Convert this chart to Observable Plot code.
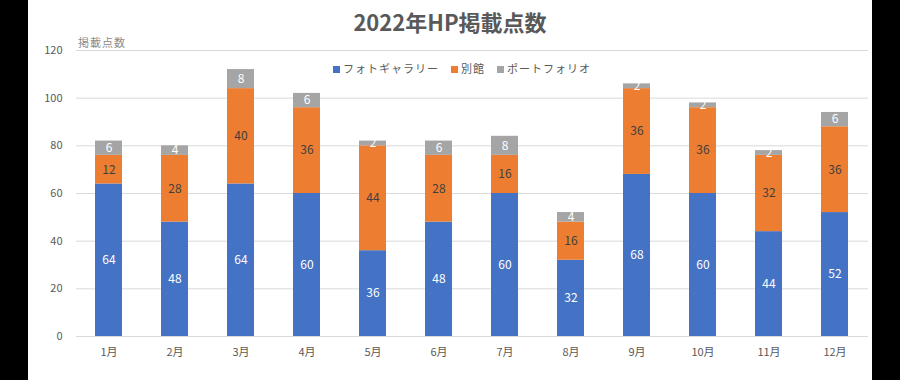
<!DOCTYPE html>
<html><head><meta charset="utf-8">
<script src="https://cdn.jsdelivr.net/npm/d3@7"></script>
<script src="https://cdn.jsdelivr.net/npm/@observablehq/plot@0.6"></script>
<style>
body{margin:0;background:#000;width:900px;height:380px;overflow:hidden;font-family:"Noto Sans CJK JP","Noto Sans",sans-serif;}
#wrap{position:absolute;left:28px;top:0;width:844px;height:380px;background:#fff;}
#title{position:absolute;left:0;width:844px;top:5px;text-align:center;font-size:22px;font-weight:bold;color:#595959;}
#ylab{position:absolute;left:50px;top:34px;font-size:11px;color:#8c8c8c;letter-spacing:1px;}
#legend{position:absolute;left:0;width:844px;top:60px;text-align:center;font-size:11px;color:#595959;padding-left:24px;box-sizing:border-box;}
#legend span{margin:0 6px;letter-spacing:1px;}
#legend i{display:inline-block;width:7px;height:7px;margin-right:3px;vertical-align:0px;}
#chart{position:absolute;left:0;top:0;}
</style></head>
<body>
<div id="wrap">
<div id="chart"></div>
<div id="title">2022年HP掲載点数</div>
<div id="ylab">掲載点数</div>
<div id="legend"></div>
</div>
<script>
const months = ["1月","2月","3月","4月","5月","6月","7月","8月","9月","10月","11月","12月"];
const seriesNames = ["フォトギャラリー","別館","ポートフォリオ"];
const seriesColors = ["#4472C4","#ED7D31","#A5A5A5"];
const photo = [64,48,64,60,36,48,60,32,68,60,44,52];
const annex = [12,28,40,36,44,28,16,16,36,36,32,36];
const portfolio = [6,4,8,6,2,6,8,4,2,2,2,6];
const yTicks = [0,20,40,60,80,100,120];

const seriesValues = [photo, annex, portfolio];
const data = [];
seriesNames.forEach((s, i) => months.forEach((m, j) => data.push({month: m, series: s, value: seriesValues[i][j]})));

const font = "'Noto Sans CJK JP','Noto Sans',sans-serif";
const chart = Plot.plot({
  width: 844, height: 380,
  marginTop: 50, marginBottom: 44, marginLeft: 48, marginRight: 4,
  style: {fontFamily: font, fontSize: "11px", color: "#595959", background: "transparent"},
  x: {domain: months, paddingInner: 0.59, paddingOuter: 0.295, label: null, tickSize: 0, tickPadding: 12},
  y: {domain: [0, 120], ticks: yTicks, label: null, tickSize: 0, tickPadding: 14},
  color: {domain: seriesNames, range: seriesColors},
  marks: [
    Plot.ruleY(yTicks, {stroke: "#d9d9d9", strokeWidth: 1}),
    Plot.barY(data, {x: "month", y: "value", z: "series", fill: "series"}),
    Plot.text(data, Plot.stackY({x: "month", y: "value", z: "series",
      text: d => d.series === "別館" ? null : String(d.value), fill: "white", fontSize: 12})),
    Plot.text(data, Plot.stackY({x: "month", y: "value", z: "series",
      text: d => d.series === "別館" ? String(d.value) : null, fill: "#404040", fontSize: 12}))
  ]
});
document.getElementById("chart").appendChild(chart);

const lg = document.getElementById("legend");
seriesNames.forEach((s, i) => {
  const sp = document.createElement("span");
  const sw = document.createElement("i");
  sw.style.background = seriesColors[i];
  sp.appendChild(sw);
  sp.appendChild(document.createTextNode(s));
  lg.appendChild(sp);
});
</script>
</body></html>
